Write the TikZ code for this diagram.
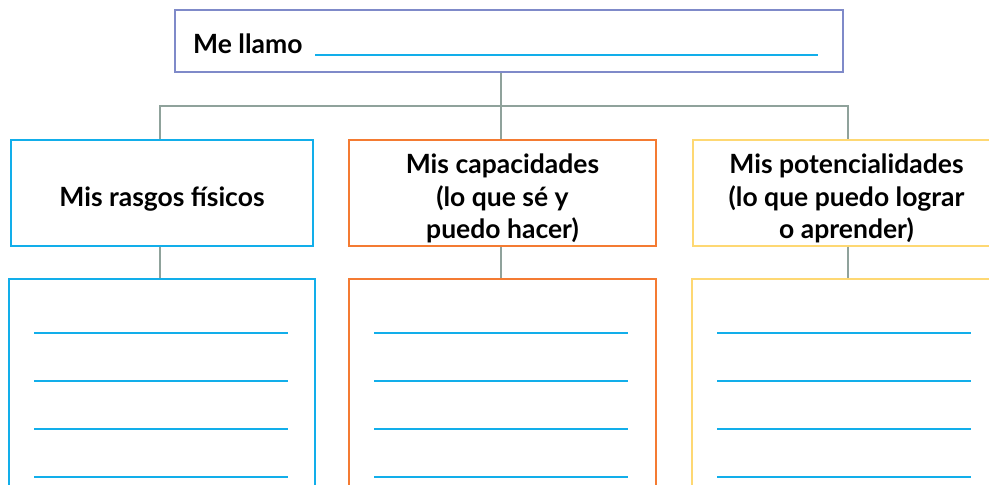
\documentclass[tikz,border=0pt]{standalone}
\usepackage{fontspec}
\setmainfont{Lato}
\usetikzlibrary{positioning}
\definecolor{namecol}{HTML}{7F8AC9}
\definecolor{bluecol}{HTML}{12AEEA}
\definecolor{orangecol}{HTML}{F47B32}
\definecolor{yellowcol}{HTML}{FED873}
\definecolor{linkcol}{HTML}{8FA29B}
\newcommand{\toplift}{\rule{0pt}{32pt}}
\tikzset{
  box/.style={draw, line width=2pt, align=center, inner sep=0pt,
    font=\fontsize{26.5}{32.5}\selectfont\bfseries},
  link/.style={draw=linkcol, line width=2pt},
  writeline/.style={draw=bluecol, line width=2.2pt}
}
\begin{document}
\begin{tikzpicture}[x=1pt,y=-1pt]
	\clip (0,0) rectangle (989,485);
	%name box
	\node[box, draw=namecol, minimum width=668pt, minimum height=62pt] (name) at (509,41) {};
	\node[font=\fontsize{26.5}{32.5}\selectfont\bfseries, anchor=base west, inner sep=0pt] (llamo) at (193,53) {Me llamo};
	\coordinate (ulstart) at (315,55);
	\coordinate (ulend) at (818,55);
	\draw[writeline] (ulstart) -- (ulend);
	
	%titles
	\node[box, draw=bluecol, minimum width=302pt, minimum height=106pt] (rasgos) at (162,192.5) {\toplift Mis rasgos físicos};
	\node[box, draw=orangecol, minimum width=307pt, minimum height=106pt] (capac) at (502.5,192.5) {\toplift Mis capacidades\\(lo que sé y\\puedo hacer)};
	\node[box, draw=yellowcol, minimum width=307pt, minimum height=106pt] (poten) at (846.5,192.5) {\toplift Mis potencialidades\\(lo que puedo lograr\\o aprender)};
	
	%lists
	\node[box, draw=bluecol, minimum width=306pt, minimum height=260pt] (rasgoslist) at (162,409) {};
	\node[box, draw=orangecol, minimum width=307pt, minimum height=260pt] (capaclist) at (502.5,409) {};
	\node[box, draw=yellowcol, minimum width=307pt, minimum height=260pt] (potenlist) at (845.5,409) {};
	
	%links
	\coordinate (bus) at (501,106);
	\draw[link] (name.south -| bus) -- (bus);
	\draw[link] ([xshift=-2pt]rasgos.north) |- (bus) -| ([xshift=1.5pt]poten.north);
	\draw[link] (bus) -- (capac.north -| bus);
	\draw[link] ([xshift=-2pt]rasgos.south) -- ([xshift=-2pt]rasgoslist.north);
	\draw[link] ([xshift=-2pt]capac.south) -- ([xshift=-2pt]capaclist.north);
	\draw[link] ([xshift=1.5pt]poten.south) -- ([xshift=2.5pt]potenlist.north);
	
	%writing lines
	\foreach \b in {rasgoslist,capaclist,potenlist}
	\foreach \y in {55,103,151,199}
	\draw[writeline] ([shift={(26,\y)}]\b.north west) -- ++(254,0);
\end{tikzpicture}
\end{document}
